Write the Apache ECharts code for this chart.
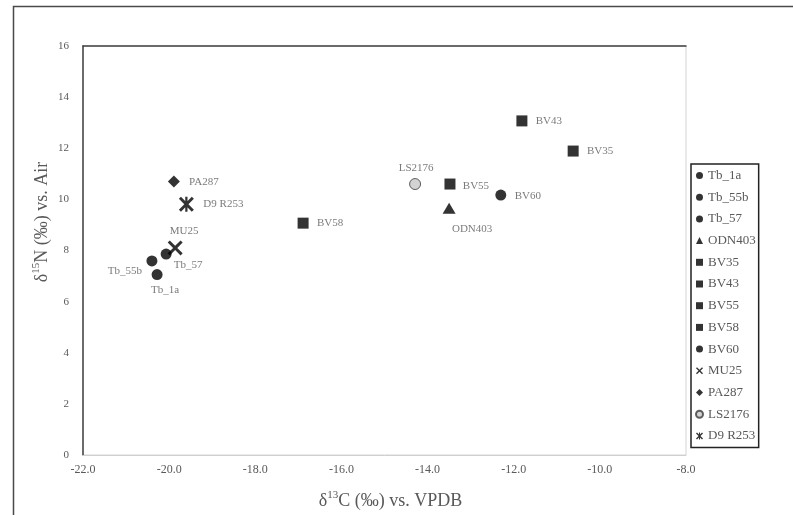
<!DOCTYPE html>
<html>
<head>
<meta charset="utf-8">
<script src="https://cdn.jsdelivr.net/npm/echarts@6/dist/echarts.min.js"></script>
<style>
  html, body { margin: 0; padding: 0; background: #fff; }
  #chart { width: 793px; height: 515px; }
</style>
</head>
<body>
<div id="chart"></div>
<script>
// ---- Data ----
const sampleNames = ['Tb_1a', 'Tb_55b', 'Tb_57', 'ODN403', 'BV35', 'BV43', 'BV55', 'BV58', 'BV60', 'MU25', 'PA287', 'LS2176', 'D9 R253'];
const d13C = [-20.28, -20.40, -20.07, -13.50, -10.62, -11.81, -13.48, -16.89, -12.30, -19.86, -19.89, -14.29, -19.60];
const d15N = [7.06, 7.59, 7.86, 9.65, 11.89, 13.07, 10.60, 9.07, 10.17, 8.10, 10.70, 10.60, 9.81];
const xTicks = { min: -22, max: -8, step: 2 };
const yTicks = { min: 0, max: 16, step: 2 };

// ---- Styling ----
const X_PATH = 'path://M1.4,0 L5,3.6 L8.6,0 L10,1.4 L6.4,5 L10,8.6 L8.6,10 L5,6.4 L1.4,10 L0,8.6 L3.6,5 L0,1.4 Z';
const STAR_PATH = 'path://M1.4,0 L5,3.6 L8.6,0 L10,1.4 L6.4,5 L10,8.6 L8.6,10 L5,6.4 L1.4,10 L0,8.6 L3.6,5 L0,1.4 Z M4.25,0 L5.75,0 L5.75,10 L4.25,10 Z';
const markerStyle = {
  'Tb_1a':   { symbol: 'circle', size: 11 },
  'Tb_55b':  { symbol: 'circle', size: 11 },
  'Tb_57':   { symbol: 'circle', size: 11 },
  'ODN403':  { symbol: 'triangle', size: [13, 11] },
  'BV35':    { symbol: 'rect', size: 11 },
  'BV43':    { symbol: 'rect', size: 11 },
  'BV55':    { symbol: 'rect', size: 11 },
  'BV58':    { symbol: 'rect', size: 11 },
  'BV60':    { symbol: 'circle', size: 11 },
  'MU25':    { symbol: X_PATH, size: 15 },
  'PA287':   { symbol: 'diamond', size: 12 },
  'LS2176':  { symbol: 'circle', size: 11, color: '#c8c8c8', border: '#3a3a3a' },
  'D9 R253': { symbol: STAR_PATH, size: 15 }
};
const labelOffset = {
  'Tb_1a': [8, 16], 'Tb_55b': [-27, 10], 'Tb_57': [22, 11], 'ODN403': [23, 21],
  'BV35': [27, 0], 'BV43': [27, 0], 'BV55': [26, 2], 'BV58': [27, 0], 'BV60': [27, 1],
  'MU25': [9, -17], 'PA287': [30, 1], 'LS2176': [1, -16], 'D9 R253': [37, 0]
};

const FONT = 'Liberation Serif';
const GRAY_TEXT = '#595959';

const series = sampleNames.map((name, i) => {
  const m = markerStyle[name];
  return {
    name: name,
    type: 'scatter',
    symbol: m.symbol,
    symbolSize: m.size,
    itemStyle: m.color ? { color: m.color, borderColor: m.border, borderWidth: 1 } : { color: '#000' },
    label: {
      show: true,
      position: 'inside',
      offset: labelOffset[name],
      formatter: p => p.seriesName,
      color: GRAY_TEXT,
      fontFamily: FONT,
      fontSize: 11
    },
    emphasis: { disabled: true },
    data: [[d13C[i], d15N[i]]],
    z: 3
  };
});

const chart = echarts.init(document.getElementById('chart'), null, { renderer: 'canvas' });
chart.setOption({
  animation: false,
  backgroundColor: '#fff',
  grid: { left: 83, right: 107, top: 46, bottom: 60, show: true, borderColor: '#d4d4d4', borderWidth: 1 },
  xAxis: [{
    type: 'value',
    min: xTicks.min, max: xTicks.max, interval: xTicks.step,
    position: 'bottom',
    axisLine: { show: true, lineStyle: { color: '#d0d0d0', width: 1 } },
    axisTick: { show: false },
    splitLine: { show: false },
    axisLabel: { color: GRAY_TEXT, fontFamily: FONT, fontSize: 12, margin: 9, formatter: v => v.toFixed(1) },
    name: '{n|δ}{s|13}{n|C (‰) vs. VPDB}',
    nameLocation: 'middle',
    nameGap: 35,
    nameTextStyle: {
      padding: [0, 0, 0, 12],
      rich: {
        n: { fontFamily: FONT, fontSize: 18, color: GRAY_TEXT, verticalAlign: 'bottom', lineHeight: 20 },
        s: { fontFamily: FONT, fontSize: 11, color: GRAY_TEXT, verticalAlign: 'top', lineHeight: 20 }
      }
    }
  }, {
    type: 'value',
    min: xTicks.min, max: xTicks.max, interval: xTicks.step,
    position: 'top',
    axisLine: { show: true, onZero: false, lineStyle: { color: '#404040', width: 1.5 } },
    axisTick: { show: false }, axisLabel: { show: false }, splitLine: { show: false }
  }],
  yAxis: [{
    type: 'value',
    min: yTicks.min, max: yTicks.max, interval: yTicks.step,
    position: 'left',
    axisLine: { show: true, onZero: false, lineStyle: { color: '#404040', width: 1.5 } },
    axisTick: { show: false },
    splitLine: { show: false },
    axisLabel: { color: GRAY_TEXT, fontFamily: FONT, fontSize: 11, margin: 14 }
  }],
  legend: {
    orient: 'vertical',
    left: 691, top: 164,
    padding: [5, 3, 5, 4],
    itemWidth: 7, itemHeight: 7,
    itemGap: 8.7,
    borderColor: '#222', borderWidth: 1.5,
    backgroundColor: '#fff',
    textStyle: { color: GRAY_TEXT, fontFamily: FONT, fontSize: 13 },
    data: sampleNames,
    selectedMode: false
  },
  graphic: [
    { type: 'polyline', silent: true, shape: { points: [[13.5, 515], [13.5, 6.5], [793, 6.5]] }, style: { stroke: '#4a4a4a', lineWidth: 1.5, fill: null } },
    {
      type: 'text', x: 41, y: 222, rotation: Math.PI / 2, silent: true,
      style: {
        text: '{n|δ}{s|15}{n|N (‰) vs. Air}',
        align: 'center', verticalAlign: 'middle',
        rich: {
          n: { fontFamily: FONT, fontSize: 18, fill: GRAY_TEXT, verticalAlign: 'bottom', lineHeight: 20 },
          s: { fontFamily: FONT, fontSize: 11, fill: GRAY_TEXT, verticalAlign: 'top', lineHeight: 20 }
        }
      }
    }
  ],
  series: series
});
</script>
</body>
</html>
